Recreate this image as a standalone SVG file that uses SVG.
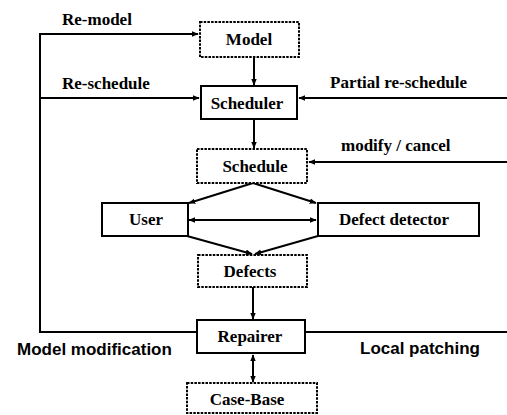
<svg xmlns="http://www.w3.org/2000/svg" width="507" height="415" viewBox="0 0 507 415">
<style>
.box{fill:#fff;stroke:#000;stroke-width:2}
.dash{stroke-dasharray:2.5 1.2}
.lbl{font-family:"Liberation Serif",serif;font-weight:bold;font-size:17px;fill:#000}
.node{font-family:"Liberation Serif",serif;font-weight:bold;font-size:17px;fill:#000;text-anchor:middle}
.sans{font-family:"Liberation Sans",Arial,sans-serif;font-weight:bold;font-size:17px;fill:#000}
.ln{fill:none;stroke:#000;stroke-width:2}
</style>
<defs>
<marker id="ah" viewBox="0 0 10 10" refX="9" refY="5" markerWidth="7" markerHeight="7" markerUnits="userSpaceOnUse" orient="auto-start-reverse">
<path d="M0,1 L10,5 L0,9 Z" fill="#000"/>
</marker>
</defs>
<g id="connectors">
<polyline class="ln" points="197,332 40,332 40,34 198,34" marker-end="url(#ah)"/>
<line class="ln" x1="40" y1="98" x2="199" y2="98" marker-end="url(#ah)"/>
<line class="ln" x1="507" y1="98" x2="299" y2="98" marker-end="url(#ah)"/>
<line class="ln" x1="507" y1="162" x2="309" y2="162" marker-end="url(#ah)"/>
<line class="ln" x1="305" y1="332" x2="507" y2="332"/>
<line class="ln" x1="254" y1="57" x2="254" y2="85" marker-end="url(#ah)"/>
<line class="ln" x1="254" y1="119" x2="254" y2="148" marker-end="url(#ah)"/>
<line class="ln" x1="253" y1="183" x2="189" y2="203" marker-end="url(#ah)"/>
<line class="ln" x1="253" y1="183" x2="316" y2="203" marker-end="url(#ah)"/>
<line class="ln" x1="189" y1="220" x2="316" y2="220" marker-start="url(#ah)" marker-end="url(#ah)"/>
<line class="ln" x1="187" y1="236" x2="252" y2="254" marker-end="url(#ah)"/>
<line class="ln" x1="318" y1="236" x2="255" y2="254" marker-end="url(#ah)"/>
<line class="ln" x1="253" y1="287" x2="253" y2="319" marker-end="url(#ah)"/>
<line class="ln" x1="253" y1="355" x2="253" y2="382" marker-start="url(#ah)" marker-end="url(#ah)"/>
</g>
<g id="labels">
<text class="lbl" x="62" y="25">Re-model</text>
<text class="lbl" x="62" y="89">Re-schedule</text>
<text class="lbl" x="330" y="88">Partial re-schedule</text>
<text class="lbl" x="341" y="151">modify / cancel</text>
<text class="sans" x="17" y="355">Model modification</text>
<text class="sans" x="360" y="354">Local patching</text>
</g>
<g id="model">
<rect class="box dash" x="200" y="22" width="99" height="35"/>
<text class="node" x="249" y="45">Model</text>
</g>
<g id="scheduler">
<rect class="box" x="201" y="86" width="96" height="33"/>
<text class="node" x="247" y="109">Scheduler</text>
</g>
<g id="schedule">
<rect class="box dash" x="197" y="149" width="110" height="34"/>
<text class="node" x="255" y="172">Schedule</text>
</g>
<g id="user">
<rect class="box" x="102" y="203" width="86" height="33"/>
<text class="node" x="146" y="225">User</text>
</g>
<g id="defect-detector">
<rect class="box" x="318" y="203" width="161" height="33"/>
<text class="node" x="394" y="225">Defect detector</text>
</g>
<g id="defects">
<rect class="box dash" x="198" y="255" width="109" height="32"/>
<text class="node" x="250" y="277">Defects</text>
</g>
<g id="repairer">
<rect class="box" x="197" y="320" width="108" height="33"/>
<text class="node" x="250" y="342">Repairer</text>
</g>
<g id="case-base">
<rect class="box dash" x="187" y="383" width="130" height="30"/>
<text class="node" x="247" y="405">Case-Base</text>
</g>
</svg>
